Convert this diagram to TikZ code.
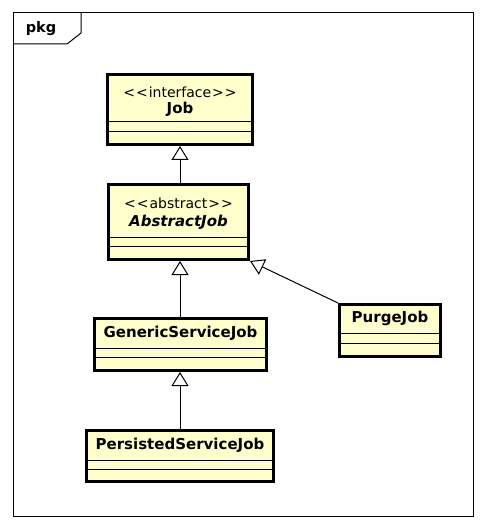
\documentclass[tikz,border=0pt]{standalone}
\usepackage{fontspec}
\setmainfont{DejaVu Sans}
\usetikzlibrary{arrows.meta}
\definecolor{clsfill}{RGB}{255,255,204}
\newcommand{\lt}{\textless\kern1pt}
\newcommand{\gt}{\kern1pt\textgreater}
\tikzset{
  cls/.style={draw=black, line width=3pt, fill=clsfill, inner sep=0pt},
  lbl/.style={inner sep=0pt, font=\fontsize{15}{17}\selectfont\bfseries},
  stereo/.style={inner sep=0pt, font=\fontsize{14}{16}\selectfont},
  comp/.style={line width=1pt},
  gen/.style={line width=1pt, -{Triangle[open, length=14pt, width=17pt, line width=1pt]}},
  frame/.style={line width=1pt}
}
\begin{document}
\begin{tikzpicture}[x=1pt,y=-1pt]
\useasboundingbox (0,0) rectangle (486,529);
% package frame
\draw[frame] (13,13) rectangle (473,516);
\draw[frame] (13,44) -- (67,44) -- (81,33) -- (81,13);
\node[inner sep=0pt, font=\fontsize{14.5}{16}\selectfont\bfseries] (pkg) at (41,29) {pkg};
% classes
\node[cls, minimum width=145pt, minimum height=70pt] (job) at (180,109.5) {};
\node[stereo] (jobst) at (180,92) {\lt\lt interface\gt\gt};
\node[lbl] (jobn) at (180,109) {Job};
\draw[comp] ([yshift=24pt]job.south west) -- ([yshift=24pt]job.south east);
\draw[comp] ([yshift=14.5pt]job.south west) -- ([yshift=14.5pt]job.south east);

\node[cls, minimum width=140pt, minimum height=75pt] (abs) at (178.5,222) {};
\node[stereo] (absst) at (178.5,203) {\lt\lt abstract\gt\gt};
\node[lbl, font=\fontsize{15}{17}\selectfont\bfseries\itshape] (absn) at (178.5,222) {AbstractJob};
\draw[comp] ([yshift=24pt]abs.south west) -- ([yshift=24pt]abs.south east);
\draw[comp] ([yshift=14.5pt]abs.south west) -- ([yshift=14.5pt]abs.south east);

\node[cls, minimum width=172pt, minimum height=52pt] (genj) at (180.5,344.5) {};
\node[lbl] (genn) at (180.5,333) {GenericServiceJob};
\draw[comp] ([yshift=24pt]genj.south west) -- ([yshift=24pt]genj.south east);
\draw[comp] ([yshift=14.5pt]genj.south west) -- ([yshift=14.5pt]genj.south east);

\node[cls, minimum width=101pt, minimum height=52pt] (purge) at (390,330.5) {};
\node[lbl] (purgen) at (390,318) {PurgeJob};
\draw[comp] ([yshift=25pt]purge.south west) -- ([yshift=25pt]purge.south east);
\draw[comp] ([yshift=14.5pt]purge.south west) -- ([yshift=14.5pt]purge.south east);

\node[cls, minimum width=187pt, minimum height=51pt] (pers) at (180,456) {};
\node[lbl] (persn) at (180,445) {PersistedServiceJob};
\draw[comp] ([yshift=23pt]pers.south west) -- ([yshift=23pt]pers.south east);
\draw[comp] ([yshift=14pt]pers.south west) -- ([yshift=14pt]pers.south east);
% generalizations
\draw[gen] (abs.north -| job.south) -- (job.south);
\draw[gen] (genj.north -| 180,0) -- (180,0 |- abs.south);
\draw[gen] (pers.north) -- (pers.north |- genj.south);
\draw[gen] (purge.north west) -- (abs.south east);
\end{tikzpicture}
\end{document}
